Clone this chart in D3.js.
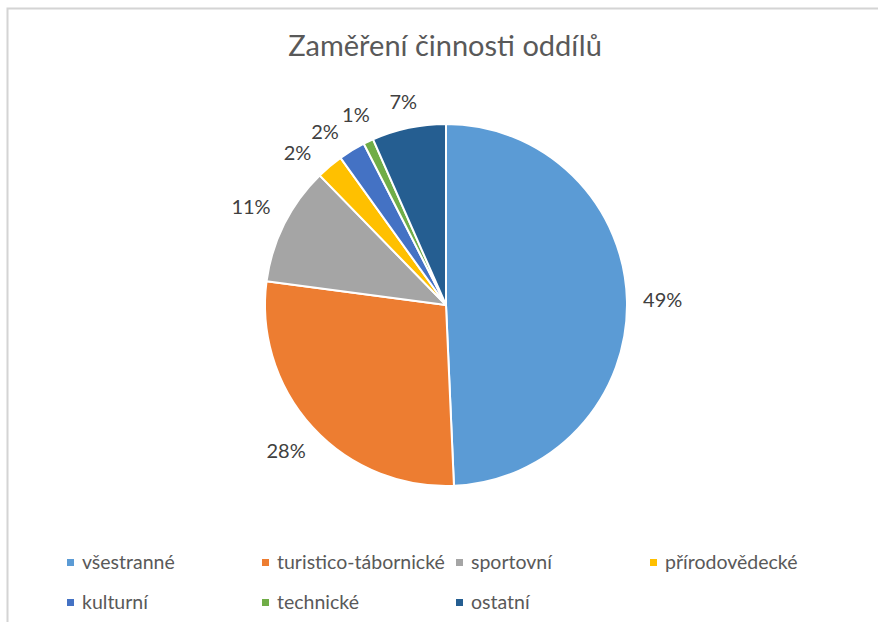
<!DOCTYPE html>
<meta charset="utf-8">
<head>
<style>
body { margin: 0; background: #fff; }
text { font-family: Lato, "Open Sans", sans-serif; }
</style>
</head>
<script src="https://cdn.jsdelivr.net/npm/d3@7"></script>
<div id="chart"></div>
<script>

// chart data
var title = "Zaměření činnosti oddílů";
var categories = ["všestranné", "turistico-tábornické", "sportovní", "přírodovědecké", "kulturní", "technické", "ostatní"];
var shares = [49.3, 27.8, 10.6, 2.4, 2.4, 0.9, 6.6];
var colors = ["#5B9BD5", "#ED7D31", "#A5A5A5", "#FFC000", "#4472C4", "#70AD47", "#255E91"];

var width = 878, height = 622;
var cx = 446, cy = 305, radius = 181;

var svg = d3.select("#chart")
  .append("svg")
    .attr("width", width)
    .attr("height", height);

// chart area border (only top and left edges visible)
svg.append("rect")
  .attr("x", 7.5)
  .attr("y", 8.5)
  .attr("width", width + 20)
  .attr("height", height + 20)
  .attr("fill", "none")
  .attr("stroke", "#d4d4d4")
  .attr("stroke-width", 2);

// title
svg.append("text")
  .attr("x", 445)
  .attr("y", 56)
  .attr("text-anchor", "middle")
  .style("font-size", "29px")
  .style("fill", "#595959")
  .text(title);

// pie
var pie = d3.pie().sort(null).value(function(d) { return d; });
var arcs = pie(shares);
var arc = d3.arc().innerRadius(0).outerRadius(radius);
var total = d3.sum(shares);

var g = svg.append("g")
  .attr("transform", "translate(" + cx + "," + cy + ")");

g.selectAll("path")
  .data(arcs)
  .enter()
  .append("path")
    .attr("d", arc)
    .attr("fill", function(d, i) { return colors[i]; })
    .attr("stroke", "#fff")
    .attr("stroke-width", 2)
    .attr("stroke-linejoin", "round");

// label angles: mid angle, but spread the small ones on the upper left
var minGap = 9.5 * Math.PI / 180;
var labelAngle = arcs.map(function(d) { return (d.startAngle + d.endAngle) / 2; });
for (var i = labelAngle.length - 2; i >= 0; i--) {
  if (labelAngle[i] > Math.PI * 1.5) {
    labelAngle[i] = Math.min(labelAngle[i], labelAngle[i + 1] - minGap);
  }
}

// outside-end labels
var labels = g.selectAll("text.lbl")
  .data(arcs)
  .enter()
  .append("text")
    .attr("class", "lbl")
    .attr("text-anchor", "middle")
    .attr("dy", "0.35em")
    .style("font-size", "20px")
    .style("fill", "#404040")
    .text(function(d) { return Math.round(d.data / total * 100) + "%"; });

labels.each(function(d, i) {
  var a = labelAngle[i];
  var w = this.getComputedTextLength();
  var s = Math.sin(a), c = Math.cos(a);
  var dist = radius + 16 + w / 2 * Math.abs(s) + 8 * Math.abs(c);
  d3.select(this)
    .attr("x", dist * s)
    .attr("y", -dist * c);
});

// legend
var colX = [67, 262, 456, 650];
var rowY = [562.5, 602.5];
var legend = svg.append("g")
  .selectAll("g")
  .data(categories)
  .enter()
  .append("g")
    .attr("transform", function(d, i) {
      return "translate(" + colX[i % 4] + "," + rowY[Math.floor(i / 4)] + ")";
    });

legend.append("rect")
  .attr("x", 0)
  .attr("y", -3.5)
  .attr("width", 7)
  .attr("height", 7)
  .attr("fill", function(d, i) { return colors[i]; });

legend.append("text")
  .attr("x", 15)
  .attr("dy", "0.35em")
  .style("font-size", "19.5px")
  .style("fill", "#595959")
  .text(function(d) { return d; });

</script>
